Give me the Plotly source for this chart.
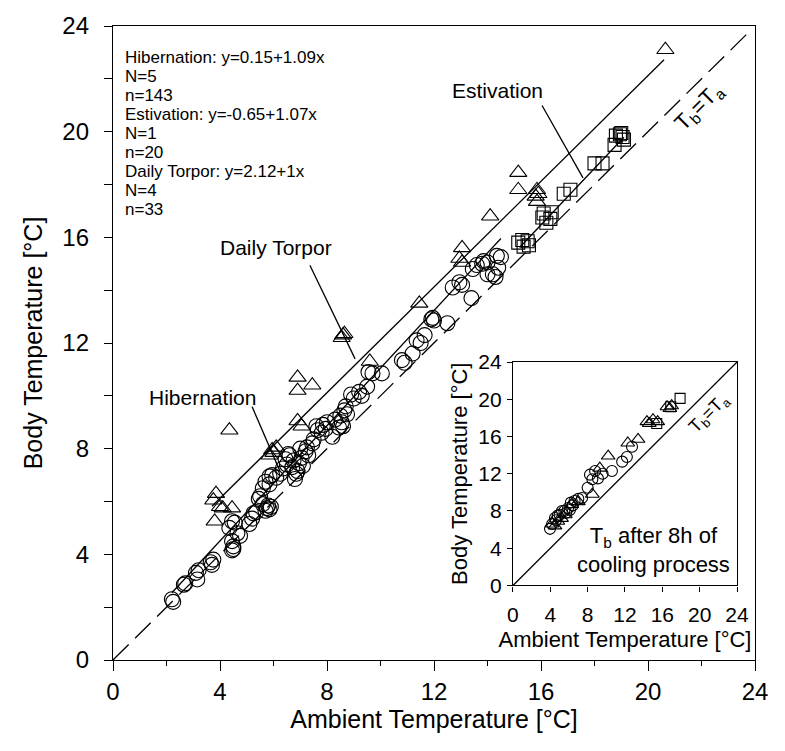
import plotly.graph_objects as go

# ---------------- data ----------------
hib_x = [2.20, 2.25, 2.65, 2.70, 3.10, 3.15, 3.20, 3.65, 3.70, 3.75,
         4.35, 4.45, 4.50, 4.50, 4.45, 4.65, 4.75, 4.45, 4.55, 5.10,
         5.20, 5.35, 5.25, 5.45, 5.50, 5.60, 5.75, 5.85, 5.80, 5.70,
         5.90, 5.60, 5.70, 5.85, 5.85, 5.95, 6.10, 6.25, 6.35, 6.50,
         6.45, 6.55, 6.60, 6.70, 6.80, 6.85, 6.90, 6.75, 6.95, 7.05,
         7.10, 7.00, 7.20, 7.25, 7.30, 7.45, 7.50, 7.60, 7.65, 7.80,
         7.85, 7.95, 8.00, 8.20, 8.30, 8.50, 8.45, 8.60, 8.65, 8.70,
         8.75, 8.55, 8.90, 9.00, 9.20, 9.30, 9.50, 9.55, 9.70, 10.05,
         10.80, 10.90, 11.20, 11.35, 11.50, 11.65, 11.95, 12.00, 11.90, 12.50,
         12.70, 12.95, 13.05, 13.40, 13.60, 13.80, 14.00, 14.00, 14.30, 14.35,
         14.40, 14.50, 13.45, 13.85, 14.20]
hib_y = [2.30, 2.20, 2.85, 2.90, 3.30, 3.05, 3.40, 3.70, 3.60, 3.80,
         5.00, 4.50, 4.20, 4.30, 4.15, 4.80, 4.70, 5.25, 5.20, 5.15,
         5.35, 5.60, 5.55, 6.10, 6.20, 5.90, 5.75, 5.70, 5.85, 5.65,
         5.80, 6.50, 6.75, 6.65, 6.95, 7.00, 6.90, 7.05, 7.25, 7.40,
         7.60, 7.80, 7.75, 7.30, 6.85, 7.05, 7.15, 7.55, 7.45, 7.65,
         7.35, 8.00, 7.90, 8.05, 7.75, 8.20, 8.35, 8.85, 8.70, 8.60,
         8.90, 8.75, 9.00, 8.45, 9.10, 9.25, 8.80, 8.85, 9.45, 9.60,
         9.30, 9.00, 10.05, 9.90, 10.15, 10.00, 10.35, 10.90, 10.85, 10.85,
         11.35, 11.25, 11.60, 12.10, 12.00, 12.30, 12.95, 12.85, 12.90, 12.75,
         14.10, 14.30, 14.20, 13.70, 14.95, 15.00, 15.05, 14.60, 14.50, 15.30,
         14.85, 15.25, 14.80, 15.10, 14.60]

tor_x = [3.75, 3.85, 3.80, 4.10, 4.45, 4.00, 4.35, 5.95, 6.00, 5.85,
         6.10, 6.90, 6.90, 7.45, 6.90, 7.05, 8.60, 8.65, 8.55, 9.60,
         11.45, 13.05, 13.05, 12.95, 14.10, 15.15, 15.15, 15.85, 15.90, 15.85,
         15.80, 20.65]
tor_y = [6.05, 6.30, 5.25, 5.75, 5.75, 5.80, 8.70, 7.95, 7.85, 7.75,
         8.05, 10.70, 10.20, 10.40, 9.05, 8.85, 12.30, 12.35, 12.20, 11.30,
         13.50, 15.60, 15.05, 15.20, 16.80, 18.45, 17.80, 17.80, 17.65, 17.35,
         17.55, 23.10]

est_x = [15.15, 15.30, 15.50, 15.55, 15.35, 16.05, 16.20, 16.10, 16.40, 16.35,
         16.85, 17.10, 18.00, 18.30, 18.75, 18.80, 18.95, 19.05, 19.10, 19.00]
est_y = [15.80, 15.90, 15.85, 15.70, 15.65, 16.75, 16.55, 16.90, 16.95, 16.70,
         17.65, 17.80, 18.80, 18.80, 19.50, 19.85, 19.90, 19.80, 19.70, 19.95]

# regression lines: intercept, slope, x-extent
hib_fit = (0.15, 1.09, 2.2, 14.5)
est_fit = (-0.65, 1.07, 15.2, 19.1)
tor_fit = (2.12, 1.00, 3.7, 20.6)
identity_x = [0, 23.7]

# inset data (Tb after 8h of cooling)
ins_hib_x = [3.97, 4.20, 4.50, 4.80, 5.00, 5.25, 5.50, 5.90, 6.10, 6.40, 6.60, 7.00, 7.40,
             8.25, 8.50, 8.80, 9.10, 9.60, 10.60, 11.70, 12.20, 12.75, 5.70, 6.20, 4.60, 8.00]
ins_hib_y = [6.08, 6.60, 7.25, 7.50, 7.60, 8.00, 8.00, 8.30, 8.10, 8.60, 9.07, 9.30, 9.40,
             11.90, 11.40, 12.30, 11.50, 12.00, 12.30, 13.30, 13.80, 14.90, 7.80, 8.90, 7.00, 10.50]
ins_tor_x = [4.20, 4.50, 4.80, 5.20, 5.60, 6.30, 7.00, 8.50, 9.30, 10.20, 12.30, 13.40,
             14.35, 14.60, 15.00, 15.50, 16.50, 16.80, 17.00]
ins_tor_y = [6.60, 6.40, 6.90, 7.20, 7.60, 8.70, 9.00, 9.80, 12.60, 13.90, 15.30, 15.70,
             17.60, 17.40, 17.80, 17.60, 19.20, 19.00, 19.30]
ins_est_x = [15.40, 16.90, 17.90]
ins_est_y = [17.40, 19.20, 20.10]

ticks_main = [0, 4, 8, 12, 16, 20, 24]
stats_lines = ["Hibernation: y=0.15+1.09x", "N=5", "n=143",
               "Estivation: y=-0.65+1.07x", "N=1", "n=20",
               "Daily Torpor: y=2.12+1x", "N=4", "n=33"]

# ---------------- figure ----------------
FONT = "Liberation Sans, Arial, Helvetica, sans-serif"
BLACK = "black"

fig = go.Figure()

def fit_line(fit):
    a, b, x0, x1 = fit
    return [x0, x1], [a + b * x0, a + b * x1]

# main identity line (dashed)
fig.add_trace(go.Scatter(x=identity_x, y=identity_x, mode="lines",
                         line=dict(color=BLACK, width=1.3, dash="22px,9px"),
                         hoverinfo="skip", showlegend=False))
for fit in (hib_fit, est_fit, tor_fit):
    lx, ly = fit_line(fit)
    fig.add_trace(go.Scatter(x=lx, y=ly, mode="lines",
                             line=dict(color=BLACK, width=1.3),
                             hoverinfo="skip", showlegend=False))

mk = dict(color=BLACK, line=dict(color=BLACK, width=1.1))
fig.add_trace(go.Scatter(x=hib_x, y=hib_y, mode="markers", showlegend=False,
                         marker=dict(symbol="circle-open", size=15, **mk)))
fig.add_trace(go.Scatter(x=tor_x, y=tor_y, mode="markers", showlegend=False,
                         marker=dict(symbol="triangle-up-open", size=15, **mk)))
fig.add_trace(go.Scatter(x=est_x, y=est_y, mode="markers", showlegend=False,
                         marker=dict(symbol="square-open", size=13, **mk)))

# inset
fig.add_trace(go.Scatter(x=[0, 24], y=[0, 24], mode="lines", xaxis="x2", yaxis="y2",
                         line=dict(color=BLACK, width=1.3), hoverinfo="skip", showlegend=False))
fig.add_trace(go.Scatter(x=ins_hib_x, y=ins_hib_y, mode="markers", xaxis="x2", yaxis="y2",
                         showlegend=False, marker=dict(symbol="circle-open", size=11, **mk)))
fig.add_trace(go.Scatter(x=ins_tor_x, y=ins_tor_y, mode="markers", xaxis="x2", yaxis="y2",
                         showlegend=False, marker=dict(symbol="triangle-up-open", size=12, **mk)))
fig.add_trace(go.Scatter(x=ins_est_x, y=ins_est_y, mode="markers", xaxis="x2", yaxis="y2",
                         showlegend=False, marker=dict(symbol="square-open", size=10, **mk)))

axis_common = dict(showline=True, linecolor=BLACK, linewidth=1.3, mirror=True,
                   showgrid=False, zeroline=False, ticks="outside",
                   tickcolor=BLACK, tickwidth=1.3, range=[0, 24],
                   tickvals=ticks_main)

fig.update_layout(
    width=785, height=751,
    margin=dict(l=113, r=30, t=22, b=91),
    paper_bgcolor="white", plot_bgcolor="white",
    font=dict(family=FONT, color=BLACK),
    xaxis=dict(**axis_common, domain=[0, 1], ticklen=10,
               minor=dict(tickvals=[2, 6, 10, 14, 18, 22], ticklen=5, ticks="outside",
                          tickcolor=BLACK, tickwidth=1.3),
               tickfont=dict(size=24), ticklabelstandoff=0,
               title=dict(text="Ambient Temperature [°C]", font=dict(size=25), standoff=3)),
    yaxis=dict(**axis_common, domain=[0, 1], ticklen=8,
               minor=dict(tickvals=[2, 6, 10, 14, 18, 22], ticklen=8, ticks="outside",
                          tickcolor=BLACK, tickwidth=1.3),
               tickfont=dict(size=24), ticklabelstandoff=10,
               title=dict(text="Body Temperature [°C]", font=dict(size=25), standoff=12)),
    xaxis2=dict(**axis_common, domain=[0.623, 0.972], anchor="y2", ticklen=5,
                tickfont=dict(size=21), ticklabelstandoff=5,
                title=dict(text="Ambient Temperature [°C]", font=dict(size=22), standoff=6)),
    yaxis2=dict(**axis_common, domain=[0.1176, 0.470], anchor="x2", ticklen=5,
                tickfont=dict(size=21), ticklabelstandoff=1,
                title=dict(text="Body Temperature [°C]", font=dict(size=22), standoff=4)),
)

# statistics text block (top-left)
for i, line in enumerate(stats_lines):
    py = 53.3 + i * 19.2
    fig.add_annotation(xref="paper", yref="paper", x=(123.3 - 113) / 642,
                       y=(660 - py) / 638, xanchor="left", yanchor="middle",
                       text=line, showarrow=False, font=dict(size=17, family=FONT))

# labels with pointer lines
labels = [("Estivation", 14.38, 21.55, 16.04, 20.99, 17.57, 18.25),
          ("Daily Torpor", 6.09, 15.60, 7.36, 14.94, 9.05, 11.40),
          ("Hibernation", 3.36, 9.95, 5.20, 9.59, 6.24, 7.15)]
for txt, tx, ty, x0, y0, x1, y1 in labels:
    fig.add_annotation(x=tx, y=ty, text=txt, showarrow=False,
                       font=dict(size=21, family=FONT))
    fig.add_shape(type="line", x0=x0, y0=y0, x1=x1, y1=y1, xref="x", yref="y",
                  line=dict(color=BLACK, width=1.3))

fig.add_annotation(x=21.94, y=20.92, text="T<sub>b</sub>=T<sub>a</sub>", showarrow=False,
                   textangle=-45, font=dict(size=22, family=FONT))
fig.add_annotation(x=21.1, y=18.45, xref="x2", yref="y2", text="T<sub>b</sub>=T<sub>a</sub>",
                   showarrow=False, textangle=-45, font=dict(size=18, family=FONT))
fig.add_annotation(x=15.0, y=3.84, xref="x2", yref="y2",
                   text="T<sub>b</sub> after 8h of<br>cooling process",
                   showarrow=False, align="center", font=dict(size=22, family=FONT))

fig.write_html("out.html")
